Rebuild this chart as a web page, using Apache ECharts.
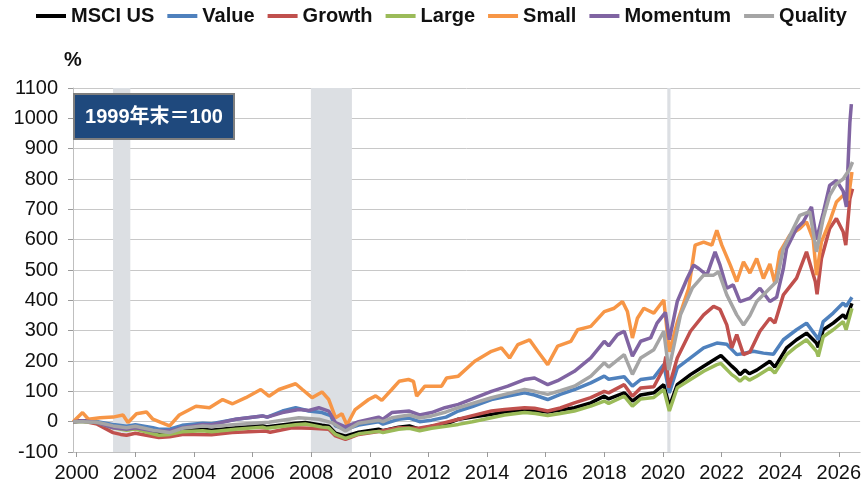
<!DOCTYPE html>
<html>
<head>
<meta charset="utf-8">
<script src="https://cdn.jsdelivr.net/npm/echarts@6/dist/echarts.min.js"></script>
<style>
  html, body { margin: 0; padding: 0; background: #fff; }
  #chart { width: 864px; height: 483px; }
</style>
</head>
<body>
<div id="chart"></div>
<script>
// x values are decimal years, y values are % change (end of 1999 = 100 -> 0)
const seriesNames = ['MSCI US', 'Value', 'Growth', 'Large', 'Small', 'Momentum', 'Quality'];
const yearTicks = [2000, 2002, 2004, 2006, 2008, 2010, 2012, 2014, 2016, 2018, 2020, 2022, 2024, 2026];
const recessions = [[2001.24, 2001.83], [2007.99, 2009.39], [2020.15, 2020.26]];

const msciUs = [[1999.88,0],[2000.2,3],[2000.7,-2],[2001.24,-15],[2001.7,-22],[2002.0,-18],[2002.6,-35],[2002.8,-40],[2003.17,-38],[2003.6,-28],[2004.3,-25],[2004.6,-28],[2005.43,-20],[2006.34,-13],[2006.5,-17],[2007.47,-5],[2007.8,-3],[2008.37,-12],[2008.6,-15],[2008.83,-38],[2009.17,-48],[2009.62,-35],[2010.3,-25],[2010.45,-30],[2010.98,-18],[2011.35,-14],[2011.7,-25],[2012.11,-15],[2012.6,-8],[2013.02,8],[2013.5,15],[2014.15,24],[2014.6,32],[2015.28,40],[2015.65,37],[2016.07,32],[2016.5,38],[2016.98,46],[2017.54,62],[2018.0,84],[2018.15,75],[2018.68,95],[2018.96,68],[2019.24,88],[2019.69,95],[2020.03,122],[2020.22,50],[2020.49,122],[2020.94,155],[2021.39,183],[2021.84,210],[2021.98,218],[2022.35,183],[2022.5,170],[2022.63,155],[2022.8,170],[2022.95,158],[2023.2,170],[2023.65,199],[2023.82,180],[2024.22,243],[2024.56,270],[2024.9,292],[2025.24,259],[2025.3,245],[2025.47,303],[2025.81,325],[2026.15,352],[2026.25,340],[2026.45,390]];
const value = [[1999.88,0],[2000.2,2],[2000.7,0],[2001.24,-9],[2001.7,-15],[2002.0,-10],[2002.6,-20],[2002.8,-25],[2003.17,-25],[2003.6,-12],[2004.3,-5],[2004.6,-7],[2005.43,8],[2006.34,19],[2006.5,15],[2007.02,35],[2007.47,46],[2007.92,35],[2008.37,30],[2008.66,20],[2008.83,-14],[2009.17,-25],[2009.62,-11],[2010.3,0],[2010.45,-8],[2010.98,8],[2011.35,12],[2011.7,0],[2012.11,5],[2012.6,15],[2013.02,35],[2013.5,50],[2014.15,73],[2014.6,82],[2015.28,95],[2015.62,88],[2016.07,73],[2016.5,90],[2016.98,106],[2017.54,128],[2018.0,150],[2018.15,140],[2018.68,148],[2018.96,117],[2019.24,139],[2019.69,145],[2020.03,188],[2020.22,95],[2020.49,177],[2020.94,210],[2021.39,243],[2021.84,259],[2022.18,255],[2022.52,221],[2022.75,225],[2023.09,232],[2023.43,226],[2023.77,222],[2024.11,270],[2024.56,303],[2024.9,325],[2025.24,281],[2025.3,270],[2025.47,330],[2025.81,358],[2026.15,391],[2026.25,380],[2026.45,410]];
const growth = [[1999.88,0],[2000.2,2],[2000.7,-8],[2001.24,-36],[2001.5,-42],[2001.7,-45],[2002.0,-38],[2002.8,-52],[2003.17,-50],[2003.6,-42],[2004.0,-42],[2004.6,-43],[2005.3,-36],[2006.45,-31],[2006.6,-35],[2007.35,-20],[2008.0,-22],[2008.6,-25],[2008.83,-47],[2009.17,-58],[2009.62,-42],[2010.41,-31],[2010.98,-20],[2011.66,-22],[2012.11,-14],[2012.56,-3],[2013.02,8],[2013.5,20],[2014.15,35],[2014.6,40],[2015.28,46],[2015.62,44],[2016.07,35],[2016.5,45],[2016.98,62],[2017.54,79],[2018.0,100],[2018.15,95],[2018.68,122],[2018.96,84],[2019.24,111],[2019.69,115],[2020.03,177],[2020.1,215],[2020.2,112],[2020.49,210],[2020.94,298],[2021.39,352],[2021.73,380],[2021.95,370],[2022.18,319],[2022.35,243],[2022.52,287],[2022.75,221],[2022.97,230],[2023.31,298],[2023.65,341],[2023.82,325],[2024.11,418],[2024.56,473],[2024.9,560],[2025.2,462],[2025.26,420],[2025.41,538],[2025.69,637],[2025.92,670],[2026.15,626],[2026.24,582],[2026.38,735],[2026.47,768]];
const large = [[1999.88,0],[2000.2,0],[2000.7,-3],[2001.24,-20],[2001.7,-28],[2002.0,-24],[2002.6,-40],[2002.8,-45],[2003.17,-42],[2003.6,-33],[2004.3,-30],[2004.6,-33],[2005.43,-25],[2006.34,-18],[2006.5,-22],[2007.47,-10],[2007.8,-8],[2008.37,-18],[2008.6,-20],[2008.83,-42],[2009.17,-55],[2009.62,-40],[2010.3,-32],[2010.45,-36],[2010.98,-25],[2011.35,-22],[2011.7,-30],[2012.11,-22],[2012.6,-15],[2013.02,-9],[2013.5,0],[2014.15,13],[2014.6,22],[2015.28,30],[2015.65,27],[2016.07,20],[2016.5,27],[2016.98,35],[2017.54,51],[2018.0,68],[2018.15,60],[2018.68,84],[2018.96,51],[2019.24,75],[2019.69,80],[2020.03,106],[2020.22,35],[2020.49,112],[2020.94,139],[2021.39,166],[2021.84,188],[2021.98,192],[2022.35,155],[2022.5,145],[2022.63,133],[2022.8,148],[2022.95,137],[2023.2,150],[2023.65,177],[2023.82,160],[2024.22,221],[2024.56,248],[2024.9,270],[2025.24,232],[2025.3,215],[2025.47,280],[2025.81,303],[2026.15,330],[2026.25,303],[2026.45,374]];
const small = [[1999.88,0],[2000.2,30],[2000.4,8],[2000.8,13],[2001.24,15],[2001.58,22],[2001.75,-3],[2002.04,26],[2002.38,32],[2002.6,8],[2002.89,-3],[2003.17,-14],[2003.5,22],[2004.07,51],[2004.53,46],[2004.98,73],[2005.32,59],[2005.77,79],[2006.28,106],[2006.56,84],[2006.9,106],[2007.47,125],[2007.7,106],[2008.03,79],[2008.37,98],[2008.6,73],[2008.83,13],[2009.05,26],[2009.22,-11],[2009.5,40],[2009.96,73],[2010.2,85],[2010.41,70],[2010.75,106],[2011.0,133],[2011.32,139],[2011.49,133],[2011.6,84],[2011.88,117],[2012.22,117],[2012.45,117],[2012.62,144],[2013.02,150],[2013.58,199],[2014.15,232],[2014.49,243],[2014.77,210],[2015.05,254],[2015.45,270],[2015.73,232],[2016.07,188],[2016.41,249],[2016.86,265],[2017.09,303],[2017.54,314],[2018.0,363],[2018.34,374],[2018.62,396],[2018.79,363],[2018.96,276],[2019.13,341],[2019.35,374],[2019.69,358],[2020.03,401],[2020.22,230],[2020.5,330],[2020.88,440],[2021.1,582],[2021.39,592],[2021.67,582],[2021.84,631],[2022.01,582],[2022.3,516],[2022.52,462],[2022.75,527],[2022.97,490],[2023.2,538],[2023.43,472],[2023.65,520],[2023.82,456],[2023.99,560],[2024.33,615],[2024.67,637],[2024.9,659],[2025.13,600],[2025.24,483],[2025.41,593],[2025.69,659],[2025.92,724],[2026.15,746],[2026.32,730],[2026.45,823]];
const momentum = [[1999.88,0],[2000.2,3],[2000.7,-3],[2001.24,-20],[2001.7,-25],[2002.0,-20],[2002.6,-30],[2003.17,-31],[2003.6,-20],[2004.3,-9],[2004.6,-10],[2005.43,8],[2006.34,19],[2006.5,15],[2007.02,30],[2007.58,40],[2007.92,37],[2008.26,46],[2008.6,35],[2008.83,-3],[2009.17,-17],[2009.62,0],[2010.3,15],[2010.45,8],[2010.75,30],[2011.35,35],[2011.7,22],[2012.11,30],[2012.56,46],[2013.02,57],[2013.5,75],[2014.15,100],[2014.71,117],[2015.28,139],[2015.62,144],[2016.07,122],[2016.41,135],[2016.98,166],[2017.54,210],[2018.0,265],[2018.15,250],[2018.45,287],[2018.68,298],[2018.96,216],[2019.24,265],[2019.58,276],[2019.8,325],[2020.09,360],[2020.22,270],[2020.49,396],[2020.83,473],[2021.05,516],[2021.22,505],[2021.5,483],[2021.78,560],[2021.95,516],[2022.18,440],[2022.4,451],[2022.63,396],[2022.97,407],[2023.31,440],[2023.65,396],[2023.88,410],[2024.11,505],[2024.22,571],[2024.56,637],[2024.79,659],[2025.07,708],[2025.24,600],[2025.47,688],[2025.69,779],[2025.92,795],[2026.15,760],[2026.26,708],[2026.32,856],[2026.38,987],[2026.43,1047]];
const quality = [[1999.88,0],[2000.2,0],[2000.7,-2],[2001.24,-14],[2001.7,-20],[2002.0,-15],[2002.6,-28],[2003.17,-36],[2003.6,-22],[2004.3,-14],[2004.6,-16],[2005.43,-9],[2006.56,-2],[2007.58,13],[2008.26,8],[2008.7,-3],[2009.17,-31],[2009.62,-5],[2010.3,5],[2010.45,0],[2010.75,13],[2011.35,22],[2011.7,12],[2012.11,19],[2012.6,32],[2013.02,46],[2013.5,60],[2014.15,79],[2014.6,90],[2015.28,106],[2015.62,100],[2016.07,90],[2016.5,102],[2016.98,117],[2017.54,150],[2018.0,194],[2018.15,180],[2018.68,221],[2018.96,156],[2019.24,210],[2019.69,237],[2020.03,298],[2020.2,170],[2020.6,352],[2021.0,440],[2021.39,483],[2021.73,483],[2021.9,494],[2022.18,418],[2022.52,352],[2022.75,319],[2022.97,350],[2023.2,396],[2023.54,429],[2023.88,462],[2024.11,571],[2024.45,637],[2024.67,680],[2025.01,692],[2025.24,560],[2025.47,670],[2025.69,746],[2025.92,784],[2026.15,800],[2026.38,834],[2026.47,856]];

const seriesData = [msciUs, value, growth, large, small, momentum, quality];
const colors = ['#000000', '#4f81bd', '#c0504d', '#9bbb59', '#f79646', '#8064a2', '#a5a5a5'];
const font = '"Liberation Sans", Arial, "Noto Sans CJK JP", sans-serif';

const chart = echarts.init(document.getElementById('chart'));

const lineSeries = seriesNames.map((name, i) => ({
  name,
  type: 'line',
  data: seriesData[i],
  showSymbol: false,
  symbol: 'none',
  lineStyle: { color: colors[i], width: 3.5 },
  itemStyle: { color: colors[i] },
  z: 3 + i,
}));

chart.setOption({
  animation: false,
  textStyle: { fontFamily: font },
  grid: { left: 73, right: 0, top: 88, bottom: 29 },
  legend: {
    top: 1,
    left: 31,
    icon: 'rect',
    itemWidth: 30,
    itemHeight: 4,
    itemGap: 13,
    data: seriesNames,
    textStyle: { fontSize: 20, fontWeight: 'bold', color: '#111', fontFamily: font },
  },
  xAxis: {
    type: 'value',
    min: 1999.874,
    max: 2026.73,
    axisLine: { show: true, onZero: false, lineStyle: { color: '#bfbfbf', width: 1 } },
    axisTick: { show: true, length: 5, customValues: yearTicks, lineStyle: { color: '#9a9a9a' } },
    axisLabel: { customValues: yearTicks, fontSize: 20, color: '#111', margin: 11, formatter: v => String(v) },
    splitLine: { show: false },
  },
  yAxis: {
    type: 'value',
    min: -100,
    max: 1100,
    interval: 100,
    name: '%',
    nameLocation: 'end',
    nameGap: 18,
    nameTextStyle: { fontSize: 20, fontWeight: 'bold', color: '#111', align: 'center' },
    axisLine: { show: true, lineStyle: { color: '#bfbfbf', width: 1 } },
    axisTick: { show: true, length: 5, lineStyle: { color: '#9a9a9a' } },
    axisLabel: { fontSize: 20, color: '#111', margin: 15, formatter: v => String(v) },
    splitLine: { lineStyle: { color: '#c8c8c8', width: 1 } },
  },
  series: [
    {
      name: 'recession',
      type: 'line',
      data: [],
      z: 1,
      silent: true,
      markArea: {
        silent: true,
        itemStyle: { color: '#dcdfe3' },
        data: recessions.map(r => [{ xAxis: r[0], yAxis: -100 }, { xAxis: r[1], yAxis: 1100 }]),
      },
    },
    ...lineSeries,
  ],
  graphic: [
    {
      type: 'group',
      left: 73,
      top: 93,
      zlevel: 1,
      children: [
        {
          type: 'rect',
          z: 100,
          shape: { x: 0, y: 0, width: 160, height: 45 },
          style: { fill: '#1f497d', stroke: '#7f7f7f', lineWidth: 2 },
        },
        {
          type: 'text',
          z: 101,
          x: 80,
          y: 23,
          style: {
            text: '1999年末＝100',
            fill: '#fff',
            font: 'bold 20px ' + font,
            align: 'center',
            verticalAlign: 'middle',
          },
        },
      ],
    },
  ],
});
</script>
</body>
</html>
